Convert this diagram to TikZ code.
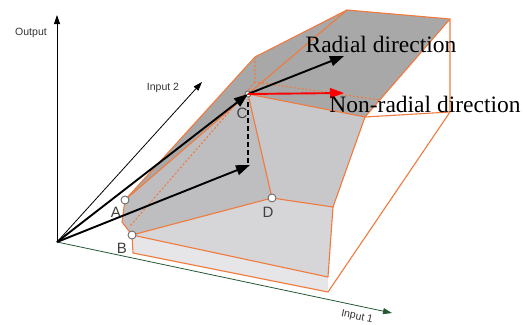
\documentclass[tikz,border=0pt]{standalone}
\usepackage{fontspec}
\setmainfont{Liberation Serif}
\setsansfont{Liberation Sans}
\usetikzlibrary{arrows.meta,positioning,calc}
\definecolor{edgeorange}{RGB}{240,122,62}
\definecolor{axisgreen}{RGB}{38,88,52}
\definecolor{topgray}{RGB}{168,168,168}
\definecolor{leftgray}{RGB}{190,190,192}
\definecolor{frontgray}{RGB}{200,200,202}
\definecolor{floorgray}{RGB}{214,214,216}
\definecolor{slabgray}{RGB}{230,230,232}

\begin{document}
\begin{tikzpicture}[x=1pt,y=-1pt,
    edge/.style={draw=edgeorange, line width=1.1pt, line join=round},
    hidden/.style={draw=edgeorange, line width=1.1pt, dash pattern=on 2pt off 2pt},
    axis/.style={line width=0.8pt, -{Triangle[length=9pt,width=6pt]}},
    vec/.style={line width=1.9pt, -{Triangle[length=14pt,width=10pt]}},
    dmu/.style={circle, draw=gray!85!black, fill=white, inner sep=0pt, minimum size=8pt, line width=0.9pt},
    ptlabel/.style={font=\sffamily\fontsize{15}{15}\selectfont, text=black!75},
    axlabel/.style={font=\sffamily\fontsize{10.5}{11}\selectfont, text=black!80},
    dirlabel/.style={font=\fontsize{23.5}{26}\selectfont}
]
\useasboundingbox (0,0) rectangle (527,324);

% corners of the technology set
\coordinate (O) at (57,242);
\coordinate (A) at (125,200);
\coordinate (B) at (132,235);
\coordinate (C) at (248,94);
\coordinate (D) at (272,198);
\coordinate (E) at (333,207);
\coordinate (F) at (365,117);
\coordinate (U) at (255,57);
\coordinate (T1) at (347,10);
\coordinate (T2) at (450,19);
\coordinate (R) at (450,112);
\coordinate (G) at (328,277);
\coordinate (H) at (328,292);
\coordinate (Bb) at (133,253);
\coordinate (A2) at (122,222);
\coordinate (Hv) at (255,82);
\coordinate (Hr) at (380,100);
\coordinate (Bh) at (130,226);

% faces
\fill[topgray] (A) -- (U) -- (T1) -- (T2) -- (F) -- (C) -- cycle;
\fill[leftgray] (A) -- (C) -- (D) -- (B) -- (A2) -- cycle;
\fill[frontgray] (C) -- (F) -- (E) -- (D) -- cycle;
\fill[floorgray] (B) -- (D) -- (E) -- (G) -- cycle;
\fill[slabgray] (B) -- (G) -- (H) -- (Bb) -- cycle;

% hidden edges
\draw[hidden] (U) -- (Hv) -- (Hr);
\draw[hidden] (Hv) -- (Bh);

% visible edges
\draw[edge] (A) -- (U) -- (T1) -- (T2) -- (R) -- (H) -- (Bb) -- (B) -- (A2) -- cycle;
\draw[edge] (A) -- (C) -- (T1);
\draw[edge] (C) -- (F) -- (T2);
\draw[edge] (F) -- (R);
\draw[edge] (F) -- (E) -- (D) -- (C);
\draw[edge] (D) -- (B) -- (G) -- (E);

% axes
\coordinate (outtip) at (57,15);
\coordinate (in2tip) at (202,82);
\coordinate (in1tip) at (392,313);
\draw[axis] (O) -- (outtip);
\draw[axis] (O) -- (in2tip);
\draw[axis, axisgreen] (O) -- (in1tip);
\node[axlabel] (outlbl) at (31,33) {Output};
\node[axlabel] (in2lbl) at (163,88) {Input 2};
\node[axlabel, rotate=-12] (in1lbl) at (357,317) {Input 1};

% units
\node[dmu] (nA) at (A) {};
\node[dmu] (nB) at (B) {};
\node[dmu] (nD) at (D) {};
\node[dmu, minimum size=6pt] (nC) at (C) {};
\node[ptlabel] (lA) at (116,212) {A};
\node[ptlabel] (lB) at (122,248) {B};
\node[ptlabel] (lC) at (242,113) {C};
\node[ptlabel] (lD) at (268,212) {D};

% projections
\coordinate (P) at (250,165);
\coordinate (Pd) at (248,163);
\coordinate (Cd) at (248,99);
\coordinate (radtip) at (344,56);
\coordinate (nradtip) at (344,93);
\draw[line width=1.4pt, dash pattern=on 5pt off 3pt] (Pd) -- (Cd);
\draw[vec] (O) -- (P);
\draw[vec] (O) -- (C);
\draw[vec] (C) -- (radtip);
\draw[vec, red] (C) -- (nradtip);

\node[dirlabel] (rad) at (381,44) {Radial direction};
\node[dirlabel] (nrad) at (425,104) {Non-radial direction};
\end{tikzpicture}
\end{document}
